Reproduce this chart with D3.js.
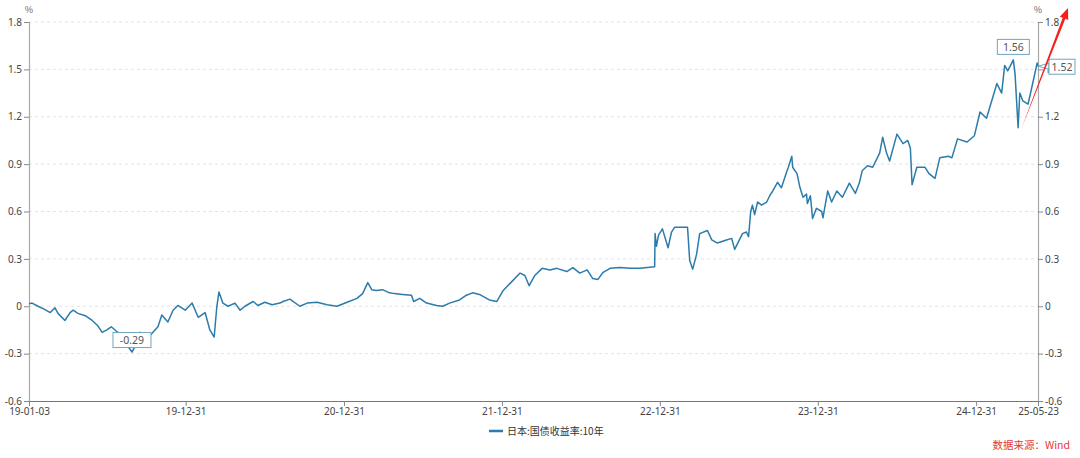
<!DOCTYPE html>
<html><head><meta charset="utf-8">
<script src="https://cdn.jsdelivr.net/npm/d3@7/dist/d3.min.js"></script>
<style>
html,body{margin:0;padding:0;background:#fff;}
svg{display:block;font-family:"Noto Sans CJK SC","Noto Sans",sans-serif;}
</style></head>
<body><svg id="c" width="1080" height="458"></svg>
<script>
// ---- data ----
const seriesName = "日本:国债收益率:10年";
const dates = [
"2019-01-03","2019-01-10","2019-01-24","2019-02-08","2019-02-21","2019-03-04","2019-03-11","2019-03-27",
"2019-04-08","2019-04-15","2019-04-26","2019-05-13","2019-05-29","2019-06-10","2019-06-21","2019-07-02",
"2019-07-12","2019-07-25","2019-08-06","2019-08-16","2019-08-29","2019-09-06","2019-09-17","2019-09-27",
"2019-10-15","2019-10-28","2019-11-06","2019-11-20","2019-12-02","2019-12-13","2019-12-30",
"2020-01-15","2020-01-29","2020-02-14","2020-02-25","2020-03-06","2020-03-12","2020-03-17","2020-03-26",
"2020-04-07","2020-04-23","2020-05-05","2020-05-16","2020-06-04","2020-06-15","2020-07-01","2020-07-18",
"2020-08-05","2020-08-12","2020-08-28","2020-09-20","2020-10-07","2020-10-30","2020-11-22","2020-12-15",
"2021-01-07","2021-01-30","2021-02-12","2021-02-24","2021-03-05","2021-03-16","2021-03-30","2021-04-15",
"2021-04-27","2021-05-15","2021-06-05","2021-06-10","2021-06-24","2021-07-10","2021-08-02","2021-08-16",
"2021-09-01","2021-09-24","2021-10-10","2021-10-24","2021-11-09","2021-12-02","2021-12-19",
"2022-01-03","2022-01-19","2022-02-11","2022-02-22","2022-03-04","2022-03-17","2022-04-03","2022-04-21",
"2022-05-07","2022-05-30","2022-06-13","2022-06-29","2022-07-16","2022-07-29","2022-08-10","2022-08-22",
"2022-09-07","2022-09-30","2022-10-23","2022-11-15","2022-12-19","2022-12-20","2022-12-23","2022-12-28",
"2023-01-06","2023-01-19","2023-01-27","2023-02-03","2023-03-05","2023-03-10","2023-03-17","2023-03-26",
"2023-04-02","2023-04-20","2023-04-30","2023-05-13","2023-06-03","2023-06-15","2023-06-22","2023-07-10",
"2023-07-19","2023-07-24","2023-07-29","2023-08-02","2023-08-07","2023-08-14","2023-08-23","2023-09-04",
"2023-09-11","2023-09-18","2023-09-29","2023-10-08","2023-10-20","2023-10-24","2023-11-01","2023-11-03",
"2023-11-13","2023-11-20","2023-11-27","2023-12-05","2023-12-07","2023-12-14","2023-12-19","2023-12-28",
"2024-01-09","2024-01-12","2024-01-23","2024-02-01","2024-02-13","2024-02-26","2024-03-13","2024-03-27",
"2024-04-05","2024-04-12","2024-04-24","2024-05-06","2024-05-22","2024-05-29","2024-06-07","2024-06-14",
"2024-07-01","2024-07-15","2024-07-26","2024-08-01","2024-08-05","2024-08-16","2024-09-04","2024-09-13",
"2024-09-27","2024-10-08","2024-10-28","2024-11-05","2024-11-18","2024-12-10","2024-12-27",
"2025-01-09","2025-01-24","2025-02-17","2025-02-28","2025-03-07","2025-03-14","2025-03-27","2025-03-31",
"2025-04-07","2025-04-11","2025-04-18","2025-04-30","2025-05-09","2025-05-21","2025-05-23"
];
const values = [
0.015,0.02,0.0,-0.02,-0.04,-0.01,-0.045,-0.09,
-0.04,-0.025,-0.045,-0.06,-0.09,-0.12,-0.165,-0.15,
-0.13,-0.16,-0.18,-0.24,-0.29,-0.25,-0.165,-0.225,
-0.17,-0.13,-0.055,-0.10,-0.025,0.005,-0.025,
0.02,-0.07,-0.04,-0.15,-0.195,-0.005,0.09,0.02,
0.0,0.02,-0.025,0.0,0.03,0.005,0.025,0.01,
0.02,0.03,0.045,0.0,0.02,0.025,0.01,0.0,
0.025,0.05,0.08,0.15,0.105,0.10,0.105,0.085,
0.08,0.075,0.07,0.03,0.05,0.02,0.005,0.0,
0.02,0.04,0.07,0.085,0.075,0.04,0.03,
0.10,0.145,0.21,0.195,0.13,0.195,0.24,0.23,
0.24,0.22,0.245,0.21,0.23,0.175,0.17,0.215,
0.24,0.245,0.24,0.24,0.25,0.46,0.38,0.45,
0.49,0.37,0.47,0.50,0.50,0.29,0.235,0.33,
0.46,0.48,0.42,0.40,0.42,0.43,0.36,0.46,
0.47,0.44,0.60,0.64,0.58,0.66,0.64,0.66,
0.70,0.73,0.785,0.75,0.85,0.88,0.95,0.88,
0.84,0.75,0.69,0.71,0.65,0.70,0.555,0.62,
0.60,0.56,0.73,0.66,0.73,0.69,0.78,0.715,
0.78,0.86,0.89,0.88,0.97,1.07,0.97,0.92,
1.09,1.03,1.05,1.00,0.77,0.88,0.88,0.84,
0.81,0.94,0.95,0.94,1.06,1.04,1.08,
1.23,1.19,1.41,1.35,1.525,1.49,1.56,1.47,
1.13,1.35,1.30,1.28,1.39,1.54,1.52
];
const xTickDates = ["2019-01-03","2019-12-31","2020-12-31","2021-12-31","2022-12-31","2023-12-31","2024-12-31","2025-05-23"];
const xTickLabels = ["19-01-03","19-12-31","20-12-31","21-12-31","22-12-31","23-12-31","24-12-31","25-05-23"];
const yTicks = [-0.6,-0.3,0,0.3,0.6,0.9,1.2,1.5,1.8];
const yTickLabels = ["-0.6","-0.3","0","0.3","0.6","0.9","1.2","1.5","1.8"];
const sourceText = "数据来源：Wind";

// ---- drawing ----
const parse = d3.timeParse("%Y-%m-%d");
const data = dates.map((d,i)=>({date:parse(d), value:values[i]}));
const L=29, R=1038, T=22, B=401;
const svg = d3.select("#c");
const x = d3.scaleTime().domain([parse(dates[0]), parse(dates[dates.length-1])]).range([L,R]);
const y = d3.scaleLinear().domain([-0.6,1.8]).range([B,T]);
const lineColor = "#2b7bab";
const fmt = v => v.toFixed(2);

// grid
svg.append("g").selectAll("line").data(yTicks.filter(v=>v>-0.6)).join("line")
  .attr("x1",L).attr("x2",R).attr("y1",d=>y(d)).attr("y2",d=>y(d))
  .attr("stroke","#e3e3e3").attr("stroke-dasharray","3,3").attr("stroke-width",1);

// y axes
const yl = svg.append("g").attr("transform",`translate(${L},0)`)
  .call(d3.axisLeft(y).tickValues(yTicks).tickFormat((d,i)=>yTickLabels[i]).tickSize(5).tickPadding(2));
const yr = svg.append("g").attr("transform",`translate(${R},0)`)
  .call(d3.axisRight(y).tickValues(yTicks).tickFormat((d,i)=>yTickLabels[i]).tickSize(5).tickPadding(2));
[yl,yr].forEach(g=>{
  g.select(".domain").attr("stroke","#a8a8a8").attr("stroke-width",1.2);
  g.selectAll(".tick line").attr("stroke","#888");
  g.selectAll(".tick text").attr("fill","#444").style("font-size","10px")
   .style("font-family","'Noto Sans','DejaVu Sans',sans-serif");
});
svg.append("text").attr("x",L).attr("y",13).attr("text-anchor","middle")
  .attr("fill","#666").style("font-size","9px").text("%");
svg.append("text").attr("x",R).attr("y",13).attr("text-anchor","middle")
  .attr("fill","#666").style("font-size","9px").text("%");

// x axis
const xa = svg.append("g").attr("transform",`translate(0,${B})`)
  .call(d3.axisBottom(x).tickValues(xTickDates.map(parse)).tickFormat((d,i)=>xTickLabels[i]).tickSize(5).tickSizeOuter(0).tickPadding(2));
xa.select(".domain").attr("stroke","#777").attr("stroke-width",1.2);
xa.selectAll(".tick line").attr("stroke","#888");
xa.selectAll(".tick text").attr("fill","#444").style("font-size","10px")
  .style("font-family","'Noto Sans','DejaVu Sans',sans-serif");

// line
svg.append("path").datum(data)
  .attr("d", d3.line().x(d=>x(d.date)).y(d=>y(d.value)))
  .attr("fill","none").attr("stroke",lineColor).attr("stroke-width",1.5).attr("stroke-linejoin","round");

// annotations: min, max, last
function box(cx, cy, txt){
  const w = txt.length*6+8, h=15;
  svg.append("rect").attr("x",cx-w/2).attr("y",cy-h/2).attr("width",w).attr("height",h)
    .attr("fill","#fff").attr("stroke","#6fa6c4").attr("stroke-width",1);
  svg.append("text").attr("x",cx).attr("y",cy+4).attr("text-anchor","middle")
    .attr("fill","#555").style("font-size","10.5px").style("font-family","'Noto Sans',sans-serif").text(txt);
}
const minI = d3.minIndex(values), maxI = d3.maxIndex(values), lastI = values.length-1;
const minP = data[minI], maxP = data[maxI], lastP = data[lastI];
box(x(minP.date), y(minP.value)-12, fmt(minP.value));
box(x(maxP.date), y(maxP.value)-13, fmt(maxP.value));
const lx = x(lastP.date), ly = y(lastP.value);
const bw = 26, bx = lx+11, by = ly-7;
svg.append("path").attr("d",`M${lx},${ly} L${bx},${ly-3} L${bx},${ly+3} Z`)
  .attr("fill","#fff").attr("stroke","#6fa6c4").attr("stroke-width",1);
svg.append("rect").attr("x",bx).attr("y",by).attr("width",bw).attr("height",15)
  .attr("fill","#fff").attr("stroke","#6fa6c4").attr("stroke-width",1);
svg.append("text").attr("x",bx+bw/2).attr("y",by+11.5).attr("text-anchor","middle")
  .attr("fill","#555").style("font-size","10.5px").style("font-family","'Noto Sans',sans-serif")
  .text(fmt(lastP.value));

// red arrow (tapering)
const ax0 = x(parse("2025-04-14")), ay0 = y(1.12);
const ax1 = R+30, ay1 = 8;
const ang = Math.atan2(ay1-ay0, ax1-ax0);
const nx = -Math.sin(ang), ny = Math.cos(ang);
const headLen = 11, headW = 4.5, shaftW = 1.4;
const hx = ax1 - Math.cos(ang)*headLen, hy = ay1 - Math.sin(ang)*headLen;
svg.append("path").attr("d",
  `M${ax0},${ay0} L${hx+nx*shaftW},${hy+ny*shaftW} L${hx+nx*headW},${hy+ny*headW} L${ax1},${ay1} L${hx-nx*headW},${hy-ny*headW} L${hx-nx*shaftW},${hy-ny*shaftW} Z`)
  .attr("fill","#f2221c");

// legend
const lgx = 489, lgy = 431;
svg.append("line").attr("x1",lgx).attr("x2",lgx+14).attr("y1",lgy).attr("y2",lgy)
  .attr("stroke",lineColor).attr("stroke-width",2.5);
svg.append("text").attr("x",lgx+18).attr("y",lgy+3.5).attr("fill","#333")
  .style("font-size","10px").text(seriesName);

// source
svg.append("text").attr("x",1070).attr("y",449).attr("text-anchor","end")
  .attr("fill","#e53935").style("font-size","10.5px").text(sourceText);
</script>
</body></html>
